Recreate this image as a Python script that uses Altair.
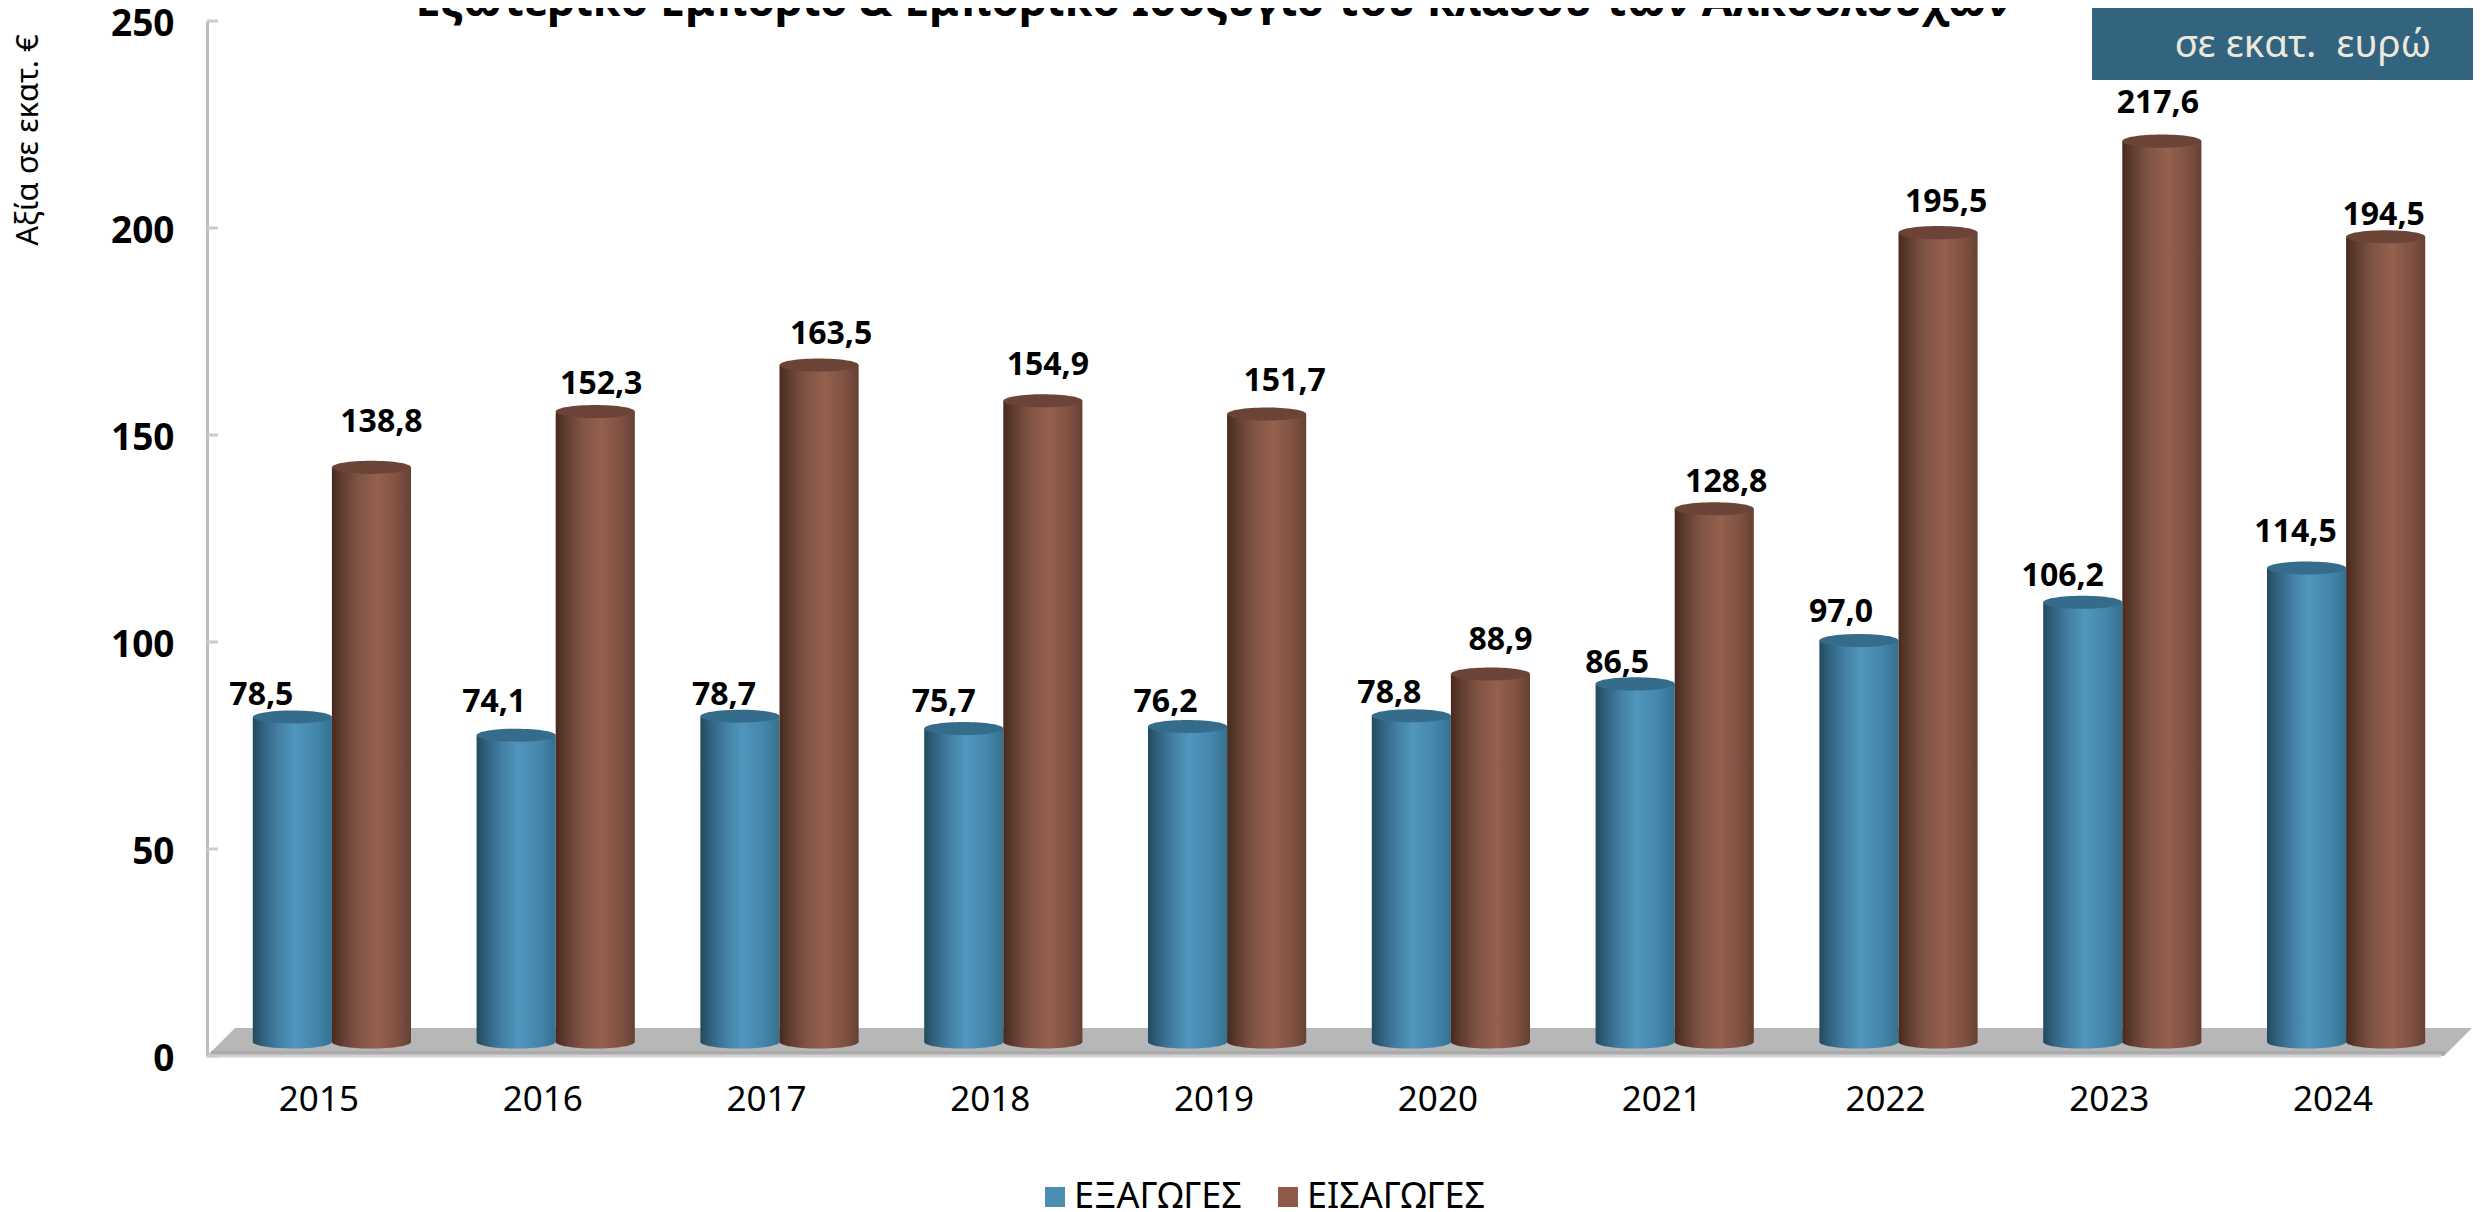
import altair as alt
import pandas as pd

years = ["2015","2016","2017","2018","2019","2020","2021","2022","2023","2024"]
exports = [78.5,74.1,78.7,75.7,76.2,78.8,86.5,97.0,106.2,114.5]
imports = [138.8,152.3,163.5,154.9,151.7,88.9,128.8,195.5,217.6,194.5]
series_names = ["ΕΞΑΓΩΓΕΣ","ΕΙΣΑΓΩΓΕΣ"]
y_ticks = [0,50,100,150,200,250]

# hand placement of the value labels, px from the bar top
nudge_exports = [(-31,-22),(-22,-33),(-16,-21),(-20,-27),(-22,-25),(-22,-23),(-18,-21),(-18,-28),(-20,-26),(-11,-36)]
nudge_imports = [(10,-45),(6,-27),(12,-31),(5,-36),(18,-33),(10,-34),(12,-27),(8,-31),(-4,-38),(-2,-22)]

W, H = 2234, 1035
DX, DY = 13, -14
FONT = "Noto Sans"

df = pd.DataFrame(
    [{"year": y, "series": series_names[0], "v": v, "z": 0} for y, v in zip(years, exports)]
    + [{"year": y, "series": series_names[1], "v": v, "z": 0} for y, v in zip(years, imports)]
)
one = pd.DataFrame({"k": [0]})

x_enc = alt.X("year:N", sort=years, title=None,
              scale=alt.Scale(paddingInner=0.293, paddingOuter=0.1465, range=[DX, W + DX + 4]),
              axis=alt.Axis(labelAngle=0, ticks=False, labelFontSize=35, labelFont=FONT, labelColor="#000",
                            labelPadding=26, domain=False, labelOffset=-DX))
xo_enc = alt.XOffset("series:N", sort=series_names, scale=alt.Scale(paddingInner=0, paddingOuter=0))
y_scale = alt.Scale(domain=[0, 250], nice=False)
y_enc = alt.Y("v:Q", stack=None, title=None, scale=y_scale,
              axis=alt.Axis(values=y_ticks, ticks=False, grid=False, labelFontSize=37, labelFont=FONT,
                            labelFontWeight="bold", labelColor="#000", labelPadding=33, labelOffset=3,
                            domainColor="#bdbdbd", domainWidth=3))

def grad(stops):
    return alt.Gradient(gradient="linear", x1=0, x2=1, y1=0, y2=0,
                        stops=[alt.GradientStop(offset=o, color=c) for o, c in stops])

blue = grad([(0, "#234a5e"), (0.12, "#2f617d"), (0.32, "#437fa3"), (0.52, "#5096bd"), (0.8, "#4486ab"), (1, "#35718f")])
brown = grad([(0, "#48291f"), (0.12, "#5f3b2f"), (0.32, "#7e5343"), (0.58, "#96604d"), (0.85, "#7c5041"), (1, "#664034")])
fills = {series_names[0]: blue, series_names[1]: brown}
tops = {series_names[0]: "#366c8b", series_names[1]: "#6c4437"}

ELL = "M-1,0 A1,0.165 0 1 1 1,0 A1,0.165 0 1 1 -1,0 Z"
BAR_W = 79

layers = []

# floor of the 3D box
r = 2265 / 2
floor_path = f"M-1,{14/r} L{-1+28/r},{-14/r} L1,{-14/r} L{1-28/r},{14/r} Z"
layers.append(alt.Chart(one).mark_point(shape=floor_path, size=2265**2, filled=True, fill="#b7b7b7", opacity=1, strokeWidth=0)
              .encode(x=alt.value(1132.5), y=alt.value(1021)))
layers.append(alt.Chart(one).mark_rule(color="#ababab", strokeWidth=4)
              .encode(x=alt.value(4), x2=alt.value(2238), y=alt.value(1032)))
layers.append(alt.Chart(one).mark_rule(color="#d2d2d2", strokeWidth=3)
              .encode(x=alt.value(0), x2=alt.value(W), y=alt.value(H)))
# y ticks
layers.append(alt.Chart(pd.DataFrame({"v": y_ticks})).mark_rule(color="#cccccc", strokeWidth=3)
              .encode(y=alt.Y("v:Q", scale=y_scale), x=alt.value(0), x2=alt.value(11)))

for name in series_names:
    base = alt.Chart(df).transform_filter(alt.datum.series == name)
    layers.append(base.mark_point(shape=ELL, size=BAR_W**2, filled=True, fill=fills[name], opacity=1,
                                  strokeWidth=0, yOffset=DY)
                  .encode(x=x_enc, xOffset=xo_enc, y=alt.Y("z:Q", scale=y_scale)))
    layers.append(base.mark_bar(fill=fills[name], yOffset=DY, y2Offset=DY)
                  .encode(x=x_enc, xOffset=xo_enc, y=y_enc, y2="z:Q"))
    layers.append(base.mark_point(shape=ELL, size=BAR_W**2, filled=True, fill=tops[name], opacity=1,
                                  strokeWidth=0, yOffset=DY)
                  .encode(x=x_enc, xOffset=xo_enc, y=y_enc))

# value labels
for name, nudges in zip(series_names, (nudge_exports, nudge_imports)):
    for yr, (ndx, ndy) in zip(years, nudges):
        layers.append(
            alt.Chart(df).transform_filter((alt.datum.series == name) & (alt.datum.year == yr))
            .transform_calculate(lab="replace(format(datum.v,'.1f'),'.',',')")
            .mark_text(font=FONT, fontSize=32, fontWeight="bold", color="#000", baseline="middle",
                       dx=ndx, dy=DY + ndy)
            .encode(x=x_enc, xOffset=xo_enc, y=y_enc, text="lab:N"))

# legend carrier
layers.append(alt.Chart(df).mark_square(size=0, opacity=0).encode(
    color=alt.Color("series:N", sort=series_names,
                    scale=alt.Scale(domain=series_names, range=["#4d8db1", "#8f5a48"]),
                    legend=alt.Legend(title=None, orient="none", legendX=830, legendY=1158, direction="horizontal",
                                      symbolType="square", symbolSize=400, symbolOpacity=1, symbolStrokeWidth=0,
                                      labelFontSize=36, labelFont=FONT, labelColor="#000", columnPadding=28,
                                      labelOffset=1, labelLimit=400))))

# banner
layers.append(alt.Chart(one).mark_rect(color="#33647f").encode(
    x=alt.value(1885), x2=alt.value(2290), y=alt.value(-13), y2=alt.value(59)))
layers.append(alt.Chart(one).mark_text(font=FONT, fontSize=38.5, color="#ede8dc", align="center", baseline="alphabetic")
              .encode(x=alt.value(2096), y=alt.value(36), text=alt.value("σε εκατ.\u00a0\u00a0ευρώ")))
# title
layers.append(alt.Chart(one).mark_text(font=FONT, fontSize=44.6, fontWeight="bold", color="#000", align="center", baseline="alphabetic")
              .encode(x=alt.value(1006), y=alt.value(-5),
                      text=alt.value("Εξωτερικό Εμπόριο & Εμπορικό Ισοζύγιο του κλάδου των Αλκοολούχων")))
# y title
layers.append(alt.Chart(one).mark_text(font=FONT, fontSize=31, color="#000", angle=270, align="center", baseline="middle")
              .encode(x=alt.value(-178), y=alt.value(119), text=alt.value("Αξία σε εκατ. €")))

chart = alt.layer(*layers).properties(
    width=W, height=H,
    autosize=alt.AutoSizeParams(type="none"),
    padding={"left": 199, "top": 13, "right": 32, "bottom": 156},
).resolve_scale(y="shared", x="shared").configure_view(stroke=None).configure_axis(grid=False)

chart.save("out.html", embed_options={"renderer": "svg", "actions": False})
